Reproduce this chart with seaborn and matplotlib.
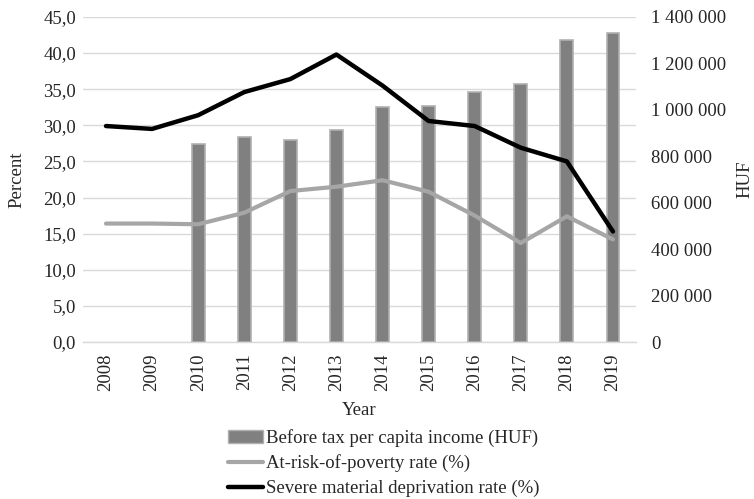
import numpy as np
import pandas as pd
import matplotlib
matplotlib.use("Agg")
import matplotlib.pyplot as plt
import seaborn as sns
from matplotlib.ticker import FuncFormatter, MultipleLocator

# Data
years = ['2008', '2009', '2010', '2011', '2012', '2013',
         '2014', '2015', '2016', '2017', '2018', '2019']
income_huf = [np.nan, np.nan, 853000, 883000, 870000, 913000,
              1011000, 1017000, 1077000, 1111000, 1301000, 1330000]
poverty_rate = [16.4, 16.4, 16.3, 17.9, 20.9, 21.5,
                22.4, 20.8, 17.5, 13.7, 17.4, 14.2]
deprivation_rate = [29.9, 29.5, 31.4, 34.6, 36.4, 39.8,
                    35.5, 30.6, 29.9, 26.9, 25.0, 15.3]

df = pd.DataFrame({'Year': years, 'Income': income_huf,
                   'Poverty': poverty_rate, 'Deprivation': deprivation_rate})

sns.set_theme(style='white')
plt.rcParams['font.family'] = ['Liberation Serif', 'DejaVu Serif']
fs = 13.5

fig = plt.figure(figsize=(7.54, 4.99), dpi=100)
ax = fig.add_axes([0.110, 0.3146, 0.7335, 0.6514])
ax2 = ax.twinx()
ax3 = ax.twinx()

# Left axis: grid and percent ticks
ax.set_ylim(0, 45)
ax.yaxis.set_major_locator(MultipleLocator(5))
ax.yaxis.set_major_formatter(FuncFormatter(lambda v, p: f'{v:.1f}'.replace('.', ',')))
ax.grid(axis='y', color='#d9d9d9', linewidth=1)
ax.set_axisbelow(True)

# Bars on right axis
sns.barplot(data=df, x='Year', y='Income', order=years, ax=ax2,
            color='#808080', saturation=1, width=0.28,
            edgecolor='#b0b0b0', linewidth=1.2, zorder=2)
ax2.set_ylim(0, 1400000)
ax2.yaxis.set_major_locator(MultipleLocator(200000))
ax2.yaxis.set_major_formatter(FuncFormatter(lambda v, p: f'{int(v):,}'.replace(',', ' ')))
ax2.set_ylabel('HUF', fontsize=fs, labelpad=7)
ax2.patch.set_visible(False)

# Lines on a third axis sharing the percent scale
sns.lineplot(data=df, x='Year', y='Poverty', ax=ax3, color='#a6a6a6',
             linewidth=3, sort=False)
sns.lineplot(data=df, x='Year', y='Deprivation', ax=ax3, color='black',
             linewidth=3.2, sort=False)
ax3.set_ylim(0, 45)
ax3.set_yticks([])
ax3.set_ylabel('')
ax3.patch.set_visible(False)

ax.set_xlim(-0.5, 11.5)
ax.set_zorder(0)
ax2.set_zorder(1)
ax3.set_zorder(2)

ax.set_xticks(range(len(years)))
ax.set_xticklabels(years, rotation=90, fontsize=fs)
ax.set_xlabel('Year', fontsize=fs, labelpad=8)
ax.set_ylabel('Percent', fontsize=fs, labelpad=13)
ax.tick_params(axis='x', length=0, labelsize=fs, pad=8)
ax.tick_params(axis='y', length=0, labelsize=fs, pad=5)
ax2.tick_params(axis='y', length=0, labelsize=fs, pad=11)
ax2.set_xlabel('')

for a in (ax, ax2, ax3):
    for s in a.spines.values():
        s.set_visible(False)
ax.spines['bottom'].set_visible(True)
ax.spines['bottom'].set_color('#d9d9d9')
ax.spines['bottom'].set_linewidth(1)

# Legend below the chart
handles = [
    plt.Rectangle((0, 0), 1, 1, facecolor='#808080', edgecolor='#b0b0b0'),
    plt.Line2D([], [], color='#a6a6a6', linewidth=3),
    plt.Line2D([], [], color='black', linewidth=3.2),
]
labels = ['Before tax per capita income (HUF)', 'At-risk-of-poverty rate (%)',
          'Severe material deprivation rate (%)']
fig.legend(handles, labels, loc='lower left', bbox_to_anchor=(0.288, -0.019),
           frameon=False, fontsize=fs, handlelength=1.85, handletextpad=0.15,
           labelspacing=0.4, borderaxespad=0.2)

fig.savefig('out.png', dpi=100)
